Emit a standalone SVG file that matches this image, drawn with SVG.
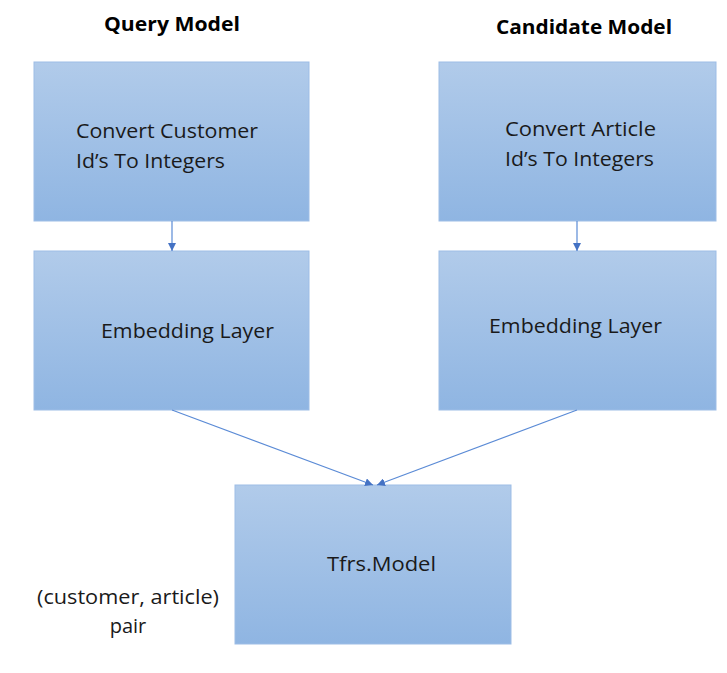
<svg xmlns="http://www.w3.org/2000/svg" width="727" height="673" viewBox="0 0 727 673">
<defs>
<linearGradient id="g" x1="0" y1="0" x2="0" y2="1">
<stop offset="0" stop-color="#b1cbea"/>
<stop offset="1" stop-color="#8fb5e2"/>
</linearGradient>
<marker id="ah" viewBox="0 0 10 10" refX="10" refY="5" markerWidth="8" markerHeight="8" markerUnits="userSpaceOnUse" orient="auto">
<path d="M0,0 L10,5 L0,10 Z" fill="#4472c4"/>
</marker>
<style>
.box{fill:url(#g);stroke:#9dbde6;stroke-width:1}
.t{font-family:"Open Sans","Liberation Sans",sans-serif;font-size:20px;fill:#1a1a1a}
.h{font-family:"Open Sans","Liberation Sans",sans-serif;font-size:20px;font-weight:bold;fill:#000}
.c{stroke:#5b8bd6;stroke-width:1.2;fill:none;marker-end:url(#ah)}
</style>
</defs>
<rect width="727" height="673" fill="#fff"/>
<g id="title-query"><text class="h" x="104" y="31" textLength="136" lengthAdjust="spacingAndGlyphs">Query Model</text></g>
<g id="title-candidate"><text class="h" x="496" y="34" textLength="176" lengthAdjust="spacingAndGlyphs">Candidate Model</text></g>
<g id="convert-customer">
<rect class="box" x="34" y="62" width="275" height="159"/>
<text class="t" x="76" y="138" textLength="182" lengthAdjust="spacingAndGlyphs">Convert Customer</text>
<text class="t" x="76" y="168" textLength="149" lengthAdjust="spacingAndGlyphs">Id’s To Integers</text>
</g>
<g id="convert-article">
<rect class="box" x="439" y="62" width="277" height="159"/>
<text class="t" x="505" y="136" textLength="151" lengthAdjust="spacingAndGlyphs">Convert Article</text>
<text class="t" x="505" y="166" textLength="149" lengthAdjust="spacingAndGlyphs">Id’s To Integers</text>
</g>
<g id="embedding-left">
<rect class="box" x="34" y="251" width="275" height="159"/>
<text class="t" x="101" y="338" textLength="173" lengthAdjust="spacingAndGlyphs">Embedding Layer</text>
</g>
<g id="embedding-right">
<rect class="box" x="439" y="251" width="277" height="159"/>
<text class="t" x="489" y="333" textLength="173" lengthAdjust="spacingAndGlyphs">Embedding Layer</text>
</g>
<g id="tfrs-model">
<rect class="box" x="235" y="485" width="276" height="159"/>
<text class="t" x="327" y="571" textLength="109" lengthAdjust="spacingAndGlyphs">Tfrs.Model</text>
</g>
<g id="pair-label">
<text class="t" x="37" y="604" textLength="182" lengthAdjust="spacingAndGlyphs">(customer, article)</text>
<text class="t" x="128" y="633" text-anchor="middle">pair</text>
</g>
<g id="connectors">
<line class="c" x1="172" y1="221" x2="172" y2="251"/>
<line class="c" x1="577" y1="221" x2="577" y2="251"/>
<line class="c" x1="172" y1="410" x2="373" y2="485"/>
<line class="c" x1="577" y1="410" x2="377" y2="485"/>
</g>
</svg>
